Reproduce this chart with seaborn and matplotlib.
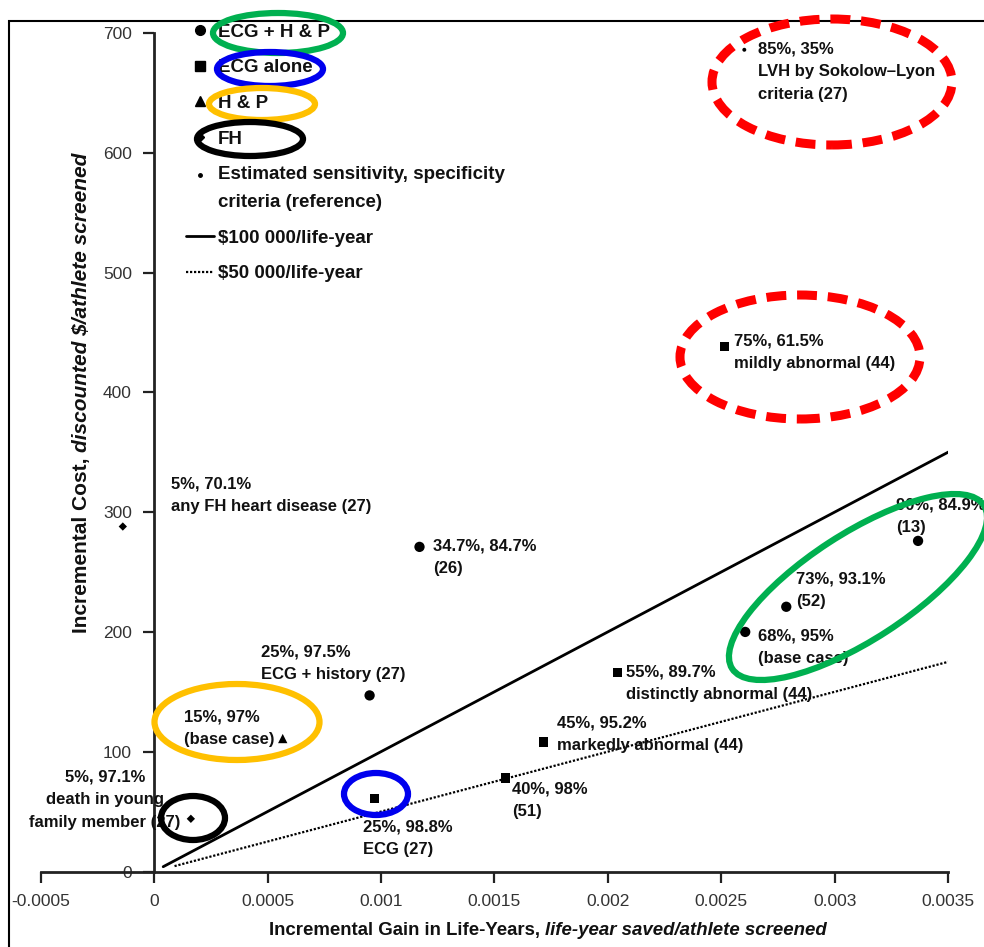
import matplotlib
matplotlib.use("Agg")
import matplotlib.pyplot as plt
import matplotlib.transforms as mtrans
from matplotlib.patches import Ellipse, Rectangle
from matplotlib.lines import Line2D
from matplotlib.legend_handler import HandlerLine2D
import seaborn as sns
import pandas as pd

# ---------------- data ----------------
gain_ecg_hp = [0.000950, 0.001170, 0.002606, 0.002787, 0.003368]
cost_ecg_hp = [147, 271, 200, 221, 276]
labels_ecg_hp = ["25%, 97.5%\nECG + history (27)", "34.7%, 84.7%\n(26)",
                 "68%, 95%\n(base case)", "73%, 93.1%\n(52)", "90%, 84.9%\n(13)"]

gain_ecg = [0.000972, 0.001549, 0.001717, 0.002043, 0.002514]
cost_ecg = [61, 78, 108, 166, 438]
labels_ecg = ["25%, 98.8%\nECG (27)", "40%, 98%\n(51)",
              "45%, 95.2%\nmarkedly abnormal (44)",
              "55%, 89.7%\ndistinctly abnormal (44)",
              "75%, 61.5%\nmildly abnormal (44)"]

gain_hp = [0.000567]
cost_hp = [111]
labels_hp = ["15%, 97%\n(base case)"]

gain_fh = [-0.000138, 0.000162]
cost_fh = [288, 44]
labels_fh = ["5%, 70.1%\nany FH heart disease (27)",
             "5%, 97.1%\ndeath in young\nfamily member (27)"]

gain_ref = [0.002602]
cost_ref = [686]
labels_ref = ["85%, 35%\nLVH by Sokolow\u2013Lyon\ncriteria (27)"]

group_names = ["ECG + H & P", "ECG alone", "H & P", "FH",
               "Estimated sensitivity, specificity\ncriteria (reference)"]

threshold_rates = [100000, 50000]
threshold_names = ["$100 000/life-year", "$50 000/life-year"]
line_gain_100k = [0.00004, 0.003508]
line_gain_50k = [0.00009, 0.003508]

x_ticks = [-0.0005, 0, 0.0005, 0.001, 0.0015, 0.002, 0.0025, 0.003, 0.0035]
x_tick_labels = ["-0.0005", "0", "0.0005", "0.001", "0.0015", "0.002",
                 "0.0025", "0.003", "0.0035"]
y_ticks = [0, 100, 200, 300, 400, 500, 600, 700]
y_tick_labels = ["0", "100", "200", "300", "400", "500", "600", "700"]

# ---------------- style ----------------
sns.set_theme(style="white")
FONT = ["Liberation Sans", "DejaVu Sans"]
plt.rcParams["font.family"] = FONT

W, H = 984, 947
fig = plt.figure(figsize=(W / 100, H / 100), dpi=100)
fig.patch.set_facecolor("white")
ax = fig.add_axes([40.7 / W, (H - 871.5) / H, (948 - 40.7) / W, (871.5 - 33) / H])
ax.set_facecolor("white")

rows = []
for g, xs, ys, ls in [(group_names[0], gain_ecg_hp, cost_ecg_hp, labels_ecg_hp),
                      (group_names[1], gain_ecg, cost_ecg, labels_ecg),
                      (group_names[2], gain_hp, cost_hp, labels_hp),
                      (group_names[3], gain_fh, cost_fh, labels_fh),
                      (group_names[4], gain_ref, cost_ref, labels_ref)]:
    for xv, yv, lv in zip(xs, ys, ls):
        rows.append({"gain": xv, "cost": yv, "group": g, "label": lv})
df = pd.DataFrame(rows)

markers = {group_names[0]: "o", group_names[1]: "s", group_names[2]: "^",
           group_names[3]: "D", group_names[4]: "o"}
sizes = {group_names[0]: 55, group_names[1]: 45, group_names[2]: 45,
         group_names[3]: 18, group_names[4]: 8}

lines_df = pd.DataFrame({
    "gain": line_gain_100k + line_gain_50k,
    "cost": [g * threshold_rates[0] for g in line_gain_100k] +
            [g * threshold_rates[1] for g in line_gain_50k],
    "kind": [threshold_names[0]] * 2 + [threshold_names[1]] * 2,
})
sns.lineplot(data=lines_df[lines_df.kind == threshold_names[0]], x="gain", y="cost",
             color="black", lw=2.0, ax=ax, legend=False)
sns.lineplot(data=lines_df[lines_df.kind == threshold_names[1]], x="gain", y="cost",
             color="black", lw=1.6, linestyle=(0, (1, 0.8)), ax=ax, legend=False)

sns.scatterplot(data=df, x="gain", y="cost", style="group", markers=markers,
                size="group", sizes=sizes, color="black", edgecolor="black",
                linewidth=0, ax=ax, legend=False, clip_on=False, zorder=5)

# annotation offsets in pixels (dx right, dy up, ha)
offsets = {
    labels_ecg_hp[0]: (-109, 53, "left"),
    labels_ecg_hp[1]: (14, 10, "left"),
    labels_ecg_hp[2]: (13, 5, "left"),
    labels_ecg_hp[3]: (10, 37, "left"),
    labels_ecg_hp[4]: (-22, 45, "left"),
    labels_ecg[0]: (-12, -19, "left"),
    labels_ecg[1]: (7, -1, "left"),
    labels_ecg[2]: (13, 29, "left"),
    labels_ecg[3]: (8, 10, "left"),
    labels_ecg[4]: (10, 15, "left"),
    labels_hp[0]: (-99, 31, "left"),
    labels_fh[0]: (48, 52, "left"),
    labels_fh[1]: (-86, 51, "center"),
    labels_ref[0]: (14, 10, "left"),
}
for _, r in df.iterrows():
    dx, dy, ha = offsets[r["label"]]
    ax.annotate(r["label"], xy=(r["gain"], r["cost"]),
                xytext=(dx * 0.72, (dy - 2) * 0.72), textcoords="offset points",
                ha=ha, va="top", multialignment=ha, fontsize=12,
                fontweight="bold", color="#111111", linespacing=1.62,
                annotation_clip=False)

# axes styling
ax.set_xlim(-0.0005, 0.0035)
ax.set_ylim(0, 700)
for s in ["top", "right"]:
    ax.spines[s].set_visible(False)
ax.spines["left"].set_position(("data", 0))
ax.spines["bottom"].set_position(("data", 0))
ax.spines["left"].set_bounds(0, 700)
ax.spines["bottom"].set_bounds(-0.0005, 0.0035)
for s in ["left", "bottom"]:
    ax.spines[s].set_color("#222222")
    ax.spines[s].set_linewidth(2.0)
ax.set_xticks(x_ticks)
ax.set_xticklabels(x_tick_labels)
ax.set_yticks(y_ticks)
ax.set_yticklabels(y_tick_labels)
ax.tick_params(axis="both", direction="out", length=8, width=1.6, color="#222222",
               labelsize=12.5, labelcolor="#333333", pad=8, left=True, bottom=True)
ax.set_xlabel("")
ax.set_ylabel("")


# legend
class RaisedHandler(HandlerLine2D):
    def __init__(self, shift, **kw):
        super().__init__(**kw)
        self.shift = shift

    def create_artists(self, legend, orig_handle, xdescent, ydescent, width,
                       height, fontsize, trans):
        arts = super().create_artists(legend, orig_handle, xdescent, ydescent,
                                      width, height, fontsize, trans)
        for a in arts:
            a.set_ydata([v + self.shift for v in a.get_ydata()])
        return arts


handles = [
    Line2D([], [], ls="none", marker="o", color="black", markersize=7),
    Line2D([], [], ls="none", marker="s", color="black", markersize=6.5),
    Line2D([], [], ls="none", marker="^", color="black", markersize=6.5),
    Line2D([], [], ls="none", marker="D", color="black", markersize=4),
    Line2D([], [], ls="none", marker="o", color="black", markersize=2.5),
    Line2D([], [], ls="-", color="black", lw=2.0),
    Line2D([], [], ls=(0, (1, 0.8)), color="black", lw=1.6),
]
leg = ax.legend(handles, group_names + threshold_names, loc="upper left",
                bbox_to_anchor=(186 / W, 1 - 23.5 / H), bbox_transform=fig.transFigure,
                frameon=False, fontsize=13.5, handlelength=1.5, handletextpad=0.2,
                labelspacing=0.99, borderpad=0, borderaxespad=0,
                handler_map={handles[4]: RaisedHandler(10)})
for t in leg.get_texts():
    t.set_fontweight("bold")
    t.set_linespacing(1.83)
    t.set_color("#111111")

# axis labels with mixed styles, sized to the reference extent
fig.canvas.draw()
renderer = fig.canvas.get_renderer()
ident = mtrans.IdentityTransform()


def two_part(parts, target_len, center, rotation):
    base = 14.0
    objs = [fig.text(0, 0, p, transform=ident, rotation=rotation, fontsize=base,
                     fontweight="bold", color="#111111", style=st)
            for p, st in parts]
    dim = "height" if rotation else "width"
    total = sum(getattr(o.get_window_extent(renderer), dim) for o in objs)
    fs = base * target_len / total
    for o in objs:
        o.set_fontsize(fs)
    lens = [getattr(o.get_window_extent(renderer), dim) for o in objs]
    start = (center[1] if rotation else center[0]) - sum(lens) / 2
    pos = start
    for o, ln in zip(objs, lens):
        if rotation:
            o.set_position((center[0], pos)); o.set_ha("center"); o.set_va("bottom")
        else:
            o.set_position((pos, center[1])); o.set_ha("left"); o.set_va("center")
        pos += ln


two_part([("Incremental Gain in Life-Years, ", "normal"),
          ("life-year saved/athlete screened", "italic")],
         561, (548, H - 930), 0)
two_part([("Incremental Cost, ", "normal"),
          ("discounted $/athlete screened", "italic")],
         483, (82, H - 393), 90)

# figure frame
fig.add_artist(Rectangle((9, -20), 1200, H - 21 + 20, transform=ident, fill=False,
                         edgecolor="black", lw=1.5, zorder=0))


# highlight ellipses (pixel coordinates, y from top)
def ell(cx, cy, w, h, color, lw=4.5, ls="-", angle=0):
    fig.add_artist(Ellipse((cx, H - cy), w, h, angle=angle, transform=ident,
                           fill=False, edgecolor=color, lw=lw, linestyle=ls,
                           zorder=10))


ell(278, 33, 130, 40, "#00B050")
ell(270, 69, 106, 34, "#0000EE")
ell(262, 104, 106, 32, "#FFC000")
ell(250, 139, 106, 34, "black")
ell(832, 82, 240, 126, "#FF0000", lw=6.5, ls=(0, (2.2, 1.2)))
ell(800, 357, 240, 124, "#FF0000", lw=6.5, ls=(0, (2.2, 1.2)))
ell(858, 587, 300, 106, "#00B050", angle=33)
ell(237, 722, 165, 76, "#FFC000")
ell(376, 794, 64, 42, "#0000EE")
ell(193, 818, 64, 44, "black")

fig.savefig("out.png", dpi=100, facecolor="white")
